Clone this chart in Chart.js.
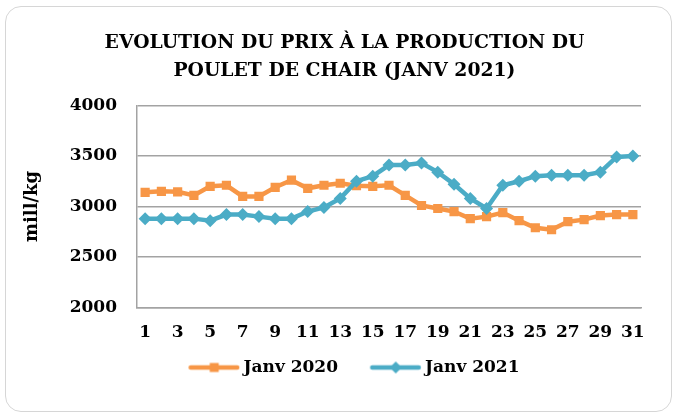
<!DOCTYPE html>
<html>
<head>
<meta charset="utf-8">
<script src="https://cdn.jsdelivr.net/npm/chart.js@4"></script>
<style>
  html, body { margin: 0; padding: 0; background: #ffffff; }
  #wrap { position: relative; width: 678px; height: 418px; }
  #frame { position: absolute; left: 5px; top: 6px; width: 665px; height: 404px;
           border: 1.5px solid #d6d6d6; border-radius: 16px; pointer-events: none; }
  canvas { position: absolute; left: 0; top: 0; }
</style>
</head>
<body>
<div id="wrap">
  <canvas id="c" width="678" height="418"></canvas>
  <div id="frame"></div>
</div>
<script>
// ---- data ----
const days = ['1','2','3','4','5','6','7','8','9','10','11','12','13','14','15','16','17','18','19','20','21','22','23','24','25','26','27','28','29','30','31'];
const janv2020 = [3140,3150,3145,3110,3200,3210,3100,3100,3190,3260,3180,3210,3230,3205,3200,3210,3110,3010,2980,2950,2880,2900,2940,2860,2790,2770,2850,2870,2910,2920,2920];
const janv2021 = [2880,2880,2880,2880,2860,2920,2920,2900,2880,2880,2950,2990,3080,3250,3300,3410,3410,3430,3340,3220,3080,2980,3210,3250,3300,3310,3310,3310,3340,3490,3500];
const seriesNames = ['Janv 2020', 'Janv 2021'];
const titleLines = ['EVOLUTION DU PRIX À LA PRODUCTION DU', 'POULET DE CHAIR (JANV 2021)'];
const yAxisTitle = 'mill/kg';

const ORANGE = '#F79646';
const BLUE = '#4BACC6';
const FONT = "'DejaVu Serif', serif";

function legendImage(color, style) {
  const c = document.createElement('canvas');
  c.width = 90; c.height = 14;
  const g = c.getContext('2d');
  g.strokeStyle = color; g.lineWidth = 4.5; g.lineCap = 'round';
  g.beginPath(); g.moveTo(39.5, 7); g.lineTo(86, 7); g.stroke();
  g.fillStyle = color;
  const cx = 63, cy = 7;
  if (style === 'rect') {
    g.fillRect(cx - 4.5, cy - 4.5, 9, 9);
  } else {
    g.beginPath(); g.moveTo(cx - 6, cy); g.lineTo(cx, cy - 6); g.lineTo(cx + 6, cy); g.lineTo(cx, cy + 6); g.closePath(); g.fill();
  }
  return c;
}
const legendImgs = [legendImage(ORANGE, 'rect'), legendImage(BLUE, 'rectRot')];

const shiftBoxes = {
  id: 'shiftBoxes',
  afterLayout(chart) {
    const lg = chart.legend;
    if (lg) { lg.left += 9; lg.right += 9; }
    const tt = chart.titleBlock;
    if (tt) { tt.left += 15; tt.right += 15; }
  }
};

new Chart(document.getElementById('c'), {
  type: 'line',
  data: {
    labels: days,
    datasets: [
      { label: seriesNames[0], data: janv2020, borderColor: ORANGE, backgroundColor: ORANGE,
        borderWidth: 4.5, pointStyle: 'rect', pointRadius: 6.5, pointBorderWidth: 0,
        pointBackgroundColor: ORANGE, tension: 0, order: 2 },
      { label: seriesNames[1], data: janv2021, borderColor: BLUE, backgroundColor: BLUE,
        borderWidth: 4.5, pointStyle: 'rectRot', pointRadius: 6.5, pointBorderWidth: 0,
        pointBackgroundColor: BLUE, tension: 0, order: 1 }
    ]
  },
  plugins: [shiftBoxes],
  options: {
    responsive: false,
    animation: false,
    devicePixelRatio: 1,
    layout: { padding: { left: 18, right: 37, top: 0, bottom: 32 } },
    plugins: {
      tooltip: { enabled: false },
      title: {
        display: true, text: titleLines, color: '#000',
        font: { family: FONT, size: 18.8, weight: 'bold', lineHeight: 1.5 },
        padding: { top: 29, bottom: 20 }
      },
      legend: {
        position: 'bottom',
        labels: {
          usePointStyle: true, pointStyleWidth: 77.5, padding: 1,
          color: '#000', font: { family: FONT, size: 17, weight: 'bold' },
          generateLabels: (chart) => chart.data.datasets.map((ds, i) => ({
            text: ds.label, fillStyle: ds.borderColor, strokeStyle: ds.borderColor,
            lineWidth: 0, pointStyle: legendImgs[i], datasetIndex: i, hidden: false, fontColor: '#000'
          }))
        }
      }
    },
    scales: {
      x: {
        offset: true,
        grid: { display: false, drawTicks: false },
        border: { display: true, color: '#a3a3a3', width: 1.5 },
        ticks: {
          autoSkip: false, maxRotation: 0, padding: 15, color: '#000',
          font: { family: FONT, size: 17, weight: 'bold' },
          callback: function (v, i) { return i % 2 === 0 ? days[i] : ''; }
        }
      },
      y: {
        min: 2000, max: 4000,
        afterFit: (s) => { s.width = 119; },
        grid: { color: '#a3a3a3', lineWidth: 1.5, drawTicks: false },
        border: { display: true, color: '#a3a3a3', width: 1.5 },
        ticks: { stepSize: 500, padding: 20, color: '#000',
                 font: { family: FONT, size: 17, weight: 'bold' },
                 callback: (v) => String(v) },
        title: { display: true, text: yAxisTitle, color: '#000',
                 font: { family: FONT, size: 18, weight: 'bold' }, padding: { top: 4, bottom: 0 } }
      }
    }
  }
});
</script>
</body>
</html>
